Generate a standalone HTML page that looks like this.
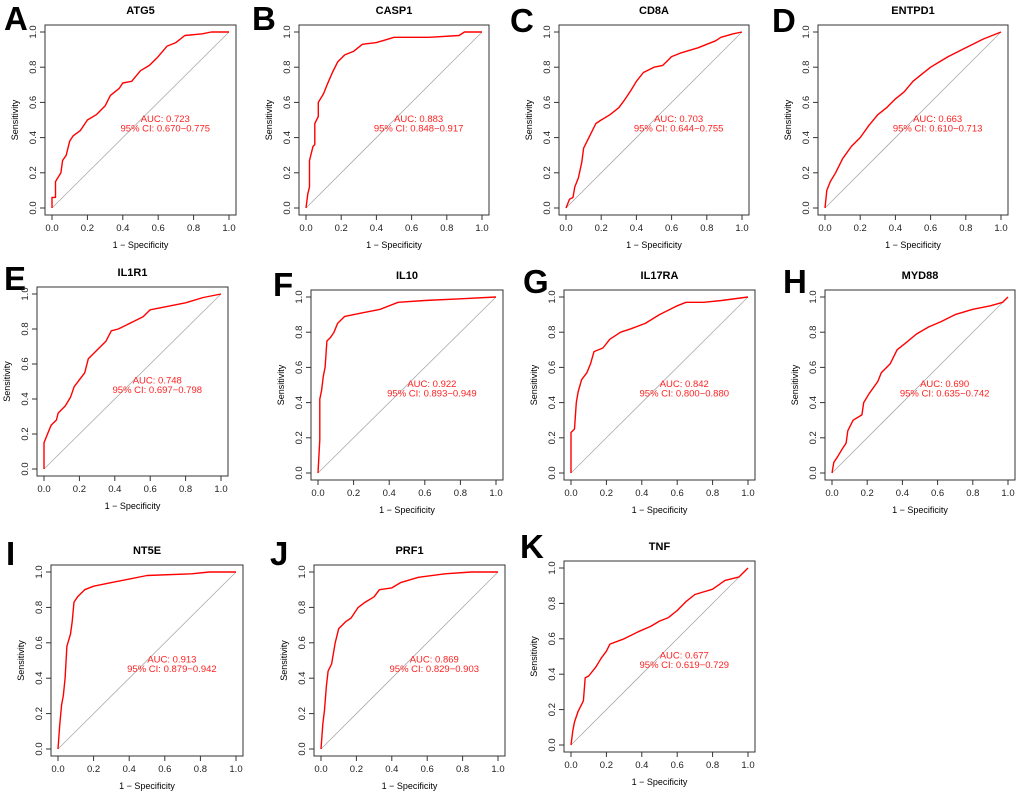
<!DOCTYPE html>
<html><head><meta charset="utf-8"><style>
body{margin:0;background:#fff}
svg{display:block}
text{font-family:"Liberation Sans",Arial,sans-serif}
</style></head><body>
<svg id="fig" width="1020" height="796" viewBox="0 0 1020 796" xmlns="http://www.w3.org/2000/svg"></svg>
<script>
const tickVals=[0,0.2,0.4,0.6,0.8,1.0];
const tickLabels=["0.0","0.2","0.4","0.6","0.8","1.0"];
const genes=["ATG5","CASP1","CD8A","ENTPD1","IL1R1","IL10","IL17RA","MYD88","NT5E","PRF1","TNF"];
const letters=["A","B","C","D","E","F","G","H","I","J","K"];
const aucs=["0.723","0.883","0.703","0.663","0.748","0.922","0.842","0.690","0.913","0.869","0.677"];
const cis=["0.670\u22120.775","0.848\u22120.917","0.644\u22120.755","0.610\u22120.713","0.697\u22120.798","0.893\u22120.949","0.800\u22120.880","0.635\u22120.742","0.879\u22120.942","0.829\u22120.903","0.619\u22120.729"];
const fprATG5=[0,0,.02,.02,.05,.06,.08,.1,.12,.16,.2,.25,.3,.33,.38,.4,.45,.5,.55,.6,.65,.7,.75,.85,.9,1];
const tprATG5=[0,.06,.06,.15,.2,.27,.3,.38,.41,.44,.5,.53,.58,.64,.68,.71,.72,.78,.81,.86,.92,.94,.98,.99,1,1];
const fprCASP1=[0,.01,.02,.02,.04,.05,.05,.07,.07,.1,.12,.15,.18,.22,.27,.32,.4,.5,.7,.87,.9,1];
const tprCASP1=[0,.08,.12,.27,.35,.36,.48,.52,.6,.65,.7,.77,.83,.87,.89,.93,.94,.97,.97,.98,1,1];
const fprCD8A=[0,.02,.04,.05,.07,.09,.1,.13,.17,.2,.25,.3,.33,.37,.4,.44,.5,.55,.6,.65,.75,.85,.88,.95,1];
const tprCD8A=[0,.05,.06,.12,.17,.26,.34,.4,.48,.5,.53,.57,.61,.67,.72,.77,.8,.81,.86,.88,.91,.95,.97,.99,1];
const fprENTPD1=[0,.01,.03,.06,.1,.15,.2,.25,.3,.35,.4,.45,.5,.55,.6,.65,.7,.8,.9,1];
const tprENTPD1=[0,.1,.15,.2,.28,.35,.4,.47,.53,.57,.62,.66,.72,.76,.8,.83,.86,.91,.96,1];
const fprIL1R1=[0,0,.02,.04,.07,.08,.12,.15,.17,.2,.23,.25,.3,.35,.38,.42,.5,.56,.6,.7,.8,.9,1];
const tprIL1R1=[0,.15,.2,.25,.28,.32,.36,.41,.47,.51,.55,.63,.68,.73,.79,.8,.84,.87,.91,.93,.95,.98,1];
const fprIL10=[0,.01,.01,.02,.03,.04,.05,.07,.09,.11,.15,.25,.35,.45,.6,.8,1];
const tprIL10=[0,.19,.42,.47,.55,.6,.75,.77,.8,.85,.89,.91,.93,.97,.98,.99,1];
const fprIL17RA=[0,0,.02,.03,.04,.06,.09,.11,.13,.18,.22,.28,.34,.42,.5,.6,.65,.75,.85,1];
const tprIL17RA=[0,.23,.25,.4,.46,.53,.57,.62,.69,.71,.76,.8,.82,.85,.9,.95,.97,.97,.98,1];
const fprMYD88=[0,.01,.03,.06,.08,.09,.12,.17,.18,.21,.26,.28,.33,.37,.42,.48,.55,.62,.7,.8,.9,.97,1];
const tprMYD88=[0,.06,.09,.14,.17,.24,.3,.33,.4,.45,.52,.57,.62,.7,.74,.79,.83,.86,.9,.93,.95,.97,1];
const fprNT5E=[0,.01,.02,.03,.04,.05,.07,.08,.09,.11,.15,.2,.3,.4,.5,.75,.85,1];
const tprNT5E=[0,.14,.25,.3,.4,.58,.65,.72,.83,.86,.9,.92,.94,.96,.98,.99,1,1];
const fprPRF1=[0,.01,.02,.03,.04,.06,.08,.1,.14,.17,.21,.25,.3,.33,.4,.45,.55,.7,.85,1];
const tprPRF1=[0,.14,.22,.35,.44,.48,.6,.68,.72,.74,.8,.83,.86,.9,.91,.94,.97,.99,1,1];
const fprTNF=[0,.01,.02,.04,.07,.08,.1,.14,.17,.2,.22,.3,.38,.45,.5,.55,.6,.65,.7,.8,.87,.95,1];
const tprTNF=[0,.08,.13,.19,.25,.38,.39,.44,.49,.53,.57,.6,.64,.67,.7,.72,.76,.81,.85,.88,.93,.95,1];
const fprs=[fprATG5,fprCASP1,fprCD8A,fprENTPD1,fprIL1R1,fprIL10,fprIL17RA,fprMYD88,fprNT5E,fprPRF1,fprTNF];
const tprs=[tprATG5,tprCASP1,tprCD8A,tprENTPD1,tprIL1R1,tprIL10,tprIL17RA,tprMYD88,tprNT5E,tprPRF1,tprTNF];
// layout: [x0px,x1px,y0px(val0),y1px(val1), letterX, letterY]
const layout=[[52,229,208,32,4,30],[306,482,208,32,252,30],[566,742,208,32,510,32],[825,1001,208,32,772,32],
[44,221,469,294,4,290],[318,496,473,297,273,296],[571,748,473,297,523,293],[832,1008,473,297,783,293],
[58,236,749,572,6,565],[321,498,749,572,270,565],[571,748,745,568,520,558]];
const NS="http://www.w3.org/2000/svg";
const svg=document.getElementById('fig');
function mk(tag,attrs,parent,txt){const e=document.createElementNS(NS,tag);for(const k in attrs)e.setAttribute(k,attrs[k]);if(txt!==undefined)e.textContent=txt;parent.appendChild(e);return e;}
genes.forEach((g,i)=>{
  const [x0,x1,y0,y1,lx,ly]=layout[i];
  const sx=v=>x0+(x1-x0)*v, sy=v=>y0+(y1-y0)*v;
  const pad=7;
  const G=mk('g',{},svg);
  
  
  const L=mk('text',{x:lx,y:ly,'font-size':33,'font-weight':'bold',fill:'#000'},G,letters[i]);
  
  
  const T=mk('text',{x:(x0+x1)/2,y:y1-18,'font-size':11,'font-weight':'bold','text-anchor':'middle'},G,g);
  
  
  const bl=x0-pad,br=x1+pad,bt=y1-pad,bb=y0+pad;
  const box=mk('rect',{x:bl,y:bt,width:br-bl,height:bb-bt,fill:'none',stroke:'#333','stroke-width':1},G);
  
  
  const diag=mk('line',{x1:sx(0),y1:sy(0),x2:sx(1),y2:sy(1),stroke:'#aaa','stroke-width':0.8},G);
  
  
  tickVals.forEach((v,k)=>{
    mk('line',{x1:sx(v),y1:bb,x2:sx(v),y2:bb+5,stroke:'#333'},G);
    const xt=mk('text',{x:sx(v),y:bb+16,'font-size':9.5,'text-anchor':'middle',fill:'#222'},G,tickLabels[k]);
    
    
    mk('line',{x1:bl,y1:sy(v),x2:bl-5,y2:sy(v),stroke:'#333'},G);
    const yt=mk('text',{x:0,y:0,'font-size':9.5,'text-anchor':'middle',fill:'#222',transform:`translate(${bl-9},${sy(v)}) rotate(-90)`},G,tickLabels[k]);
    
    
  });
  const xa=mk('text',{x:(x0+x1)/2,y:bb+33,'font-size':9,'text-anchor':'middle'},G,'1 \u2212 Specificity');
  
  
  const ya=mk('text',{x:0,y:0,'font-size':9,'text-anchor':'middle',transform:`translate(${bl-27},${(y0+y1)/2}) rotate(-90)`},G,'Sensitivity');
  
  
  const pts=fprs[i].map((f,k)=>sx(f).toFixed(1)+','+sy(tprs[i][k]).toFixed(1)).join(' ');
  const c=mk('polyline',{points:pts,fill:'none',stroke:'#f00','stroke-width':1.4,'stroke-linejoin':'round'},G);
  
  
  const a=mk('text',{x:sx(0.64),y:sy(0.49),'font-size':9.5,'text-anchor':'middle',fill:'#f22'},G,'AUC: '+aucs[i]);
  
  
  const ci=mk('text',{x:sx(0.64),y:sy(0.435),'font-size':9.5,'text-anchor':'middle',fill:'#f22'},G,'95% CI: '+cis[i]);
  
  
});
</script>
</body></html>
